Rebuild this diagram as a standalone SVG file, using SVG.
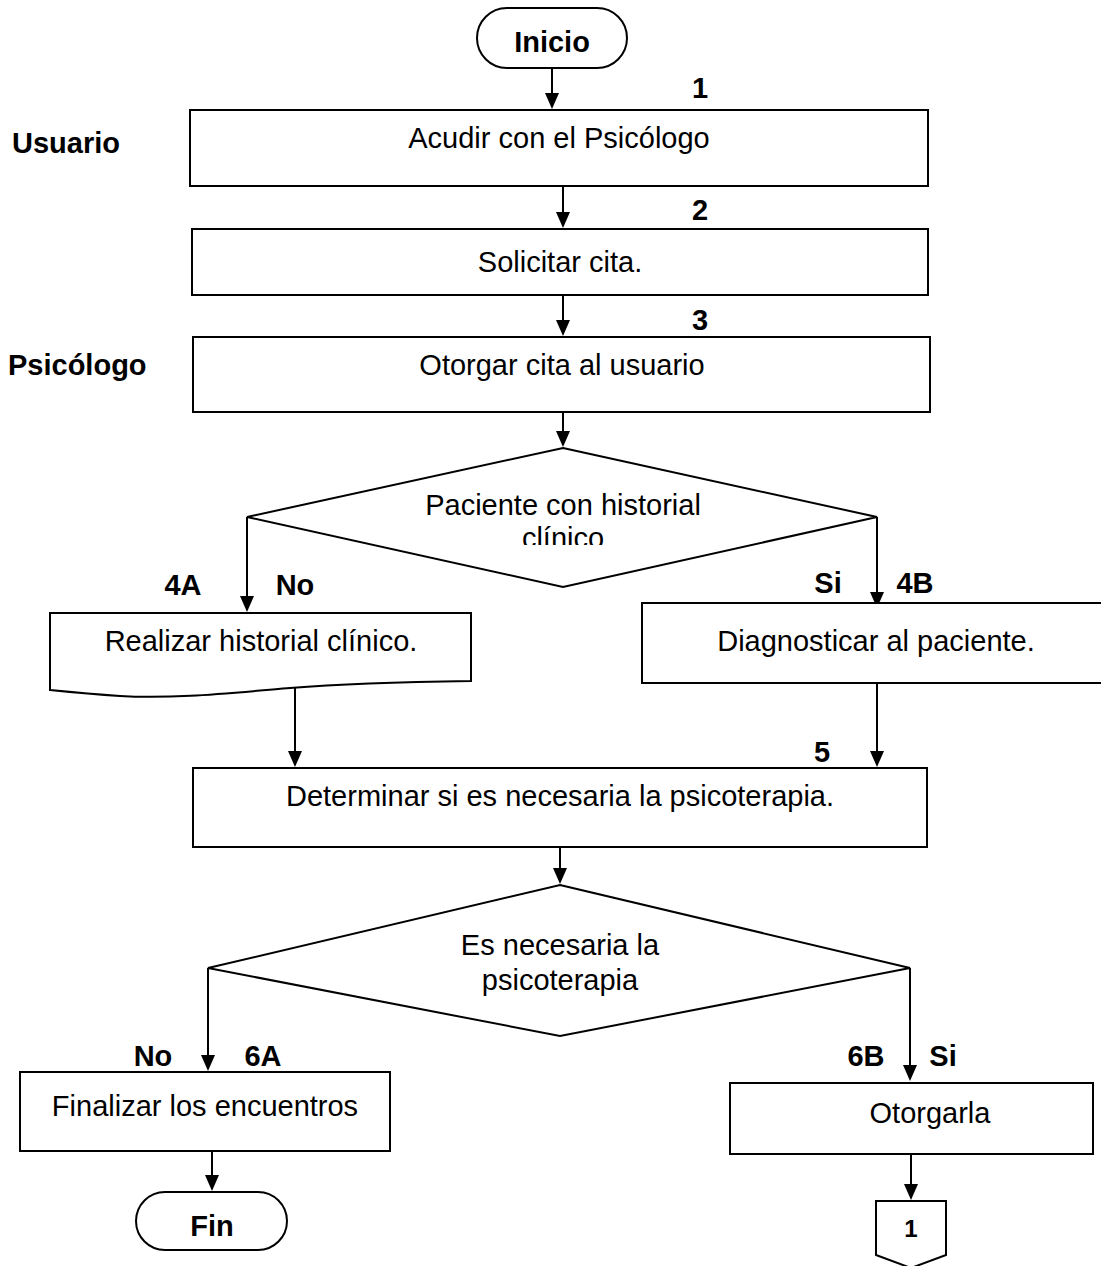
<svg xmlns="http://www.w3.org/2000/svg" width="1101" height="1266" viewBox="0 0 1101 1266">
<defs>
<clipPath id="clipD1"><rect x="0" y="0" width="1101" height="545"/></clipPath>
<style>
.box{fill:#fff;stroke:#000;stroke-width:2}
.t{font-family:"Liberation Sans",Arial,sans-serif;font-size:29px;fill:#000;text-anchor:middle}
.b{font-family:"Liberation Sans",Arial,sans-serif;font-size:29px;font-weight:bold;fill:#000}
.ln{stroke:#000;stroke-width:2;fill:none}
.ah{fill:#000}
</style>
</defs>
<rect width="1101" height="1266" fill="#fff"/>

<g id="connectors">
<path class="ln" d="M552,68 V94"/><path class="ah" d="M545,93 L559,93 L552,109 Z"/>
<path class="ln" d="M563,186 V213"/><path class="ah" d="M556,212 L570,212 L563,228 Z"/>
<path class="ln" d="M563,295 V321"/><path class="ah" d="M556,320 L570,320 L563,336 Z"/>
<path class="ln" d="M563,412 V432"/><path class="ah" d="M556,431 L570,431 L563,447 Z"/>
<path class="ln" d="M247,517 V597"/><path class="ah" d="M240,596 L254,596 L247,612 Z"/>
<path class="ln" d="M877,517 V593"/><path class="ah" d="M870,592 L884,592 L877,608 Z"/>
<path class="ln" d="M295,686 V752"/><path class="ah" d="M288,751 L302,751 L295,767 Z"/>
<path class="ln" d="M877,683 V752"/><path class="ah" d="M870,751 L884,751 L877,767 Z"/>
<path class="ln" d="M560,847 V869"/><path class="ah" d="M553,868 L567,868 L560,884 Z"/>
<path class="ln" d="M208,968 V1056"/><path class="ah" d="M201,1055 L215,1055 L208,1071 Z"/>
<path class="ln" d="M910,968 V1066"/><path class="ah" d="M903,1065 L917,1065 L910,1081 Z"/>
<path class="ln" d="M212,1151 V1176"/><path class="ah" d="M205,1175 L219,1175 L212,1191 Z"/>
<path class="ln" d="M911,1154 V1185"/><path class="ah" d="M904,1184 L918,1184 L911,1200 Z"/>
</g>

<g id="n-inicio">
<rect class="box" x="477" y="8" width="150" height="60" rx="30" ry="30"/>
<text class="b" x="552" y="52" text-anchor="middle">Inicio</text>
</g>

<g id="lane-labels">
<text class="b" x="12" y="153">Usuario</text>
<text class="b" x="8" y="375">Psicólogo</text>
</g>

<g id="n1">
<rect class="box" x="190" y="110" width="738" height="76"/>
<text class="t" x="559" y="148">Acudir con el Psicólogo</text>
<text class="b" x="700" y="98" text-anchor="middle">1</text>
</g>

<g id="n2">
<rect class="box" x="192" y="229" width="736" height="66"/>
<text class="t" x="560" y="272">Solicitar cita.</text>
<text class="b" x="700" y="220" text-anchor="middle">2</text>
</g>

<g id="n3">
<rect class="box" x="193" y="337" width="737" height="75"/>
<text class="t" x="562" y="375">Otorgar cita al usuario</text>
<text class="b" x="700" y="330" text-anchor="middle">3</text>
</g>

<g id="d1">
<polygon class="box" points="563,448 877,517 563,587 247,517"/>
<g clip-path="url(#clipD1)">
<text class="t" x="563" y="515">Paciente con historial</text>
<text class="t" x="563" y="548">clínico</text>
</g>
<text class="b" x="183" y="595" text-anchor="middle">4A</text>
<text class="b" x="295" y="595" text-anchor="middle">No</text>
<text class="b" x="828" y="593" text-anchor="middle">Si</text>
<text class="b" x="915" y="593" text-anchor="middle">4B</text>
</g>

<g id="n4a">
<path class="box" d="M50,613 H471 V681 C400,682 340,684 290,688 C220,694 170,699 120,696 C90,694 70,692 50,690 Z"/>
<text class="t" x="261" y="651">Realizar historial clínico.</text>
</g>

<g id="n4b">
<rect class="box" x="642" y="603" width="470" height="80"/>
<text class="t" x="876" y="651">Diagnosticar al paciente.</text>
</g>

<g id="n5">
<rect class="box" x="193" y="768" width="734" height="79"/>
<text class="t" x="560" y="806">Determinar si es necesaria la psicoterapia.</text>
<text class="b" x="822" y="762" text-anchor="middle">5</text>
</g>

<g id="d2">
<polygon class="box" points="560,885 910,968 560,1036 208,968"/>
<text class="t" x="560" y="955">Es necesaria la</text>
<text class="t" x="560" y="990">psicoterapia</text>
<text class="b" x="153" y="1066" text-anchor="middle">No</text>
<text class="b" x="263" y="1066" text-anchor="middle">6A</text>
<text class="b" x="866" y="1066" text-anchor="middle">6B</text>
<text class="b" x="943" y="1066" text-anchor="middle">Si</text>
</g>

<g id="n6a">
<rect class="box" x="20" y="1072" width="370" height="79"/>
<text class="t" x="205" y="1116">Finalizar los encuentros</text>
</g>

<g id="n-fin">
<rect class="box" x="136" y="1192" width="151" height="58" rx="29" ry="29"/>
<text class="b" x="212" y="1236" text-anchor="middle">Fin</text>
</g>

<g id="n6b">
<rect class="box" x="730" y="1083" width="363" height="71"/>
<text class="t" x="930" y="1123">Otorgarla</text>
</g>

<g id="n-offpage">
<path class="box" d="M876,1201 H946 V1255 L911,1268 L876,1255 Z"/>
<text class="b" x="911" y="1237" text-anchor="middle" style="font-size:24px">1</text>
</g>
</svg>
